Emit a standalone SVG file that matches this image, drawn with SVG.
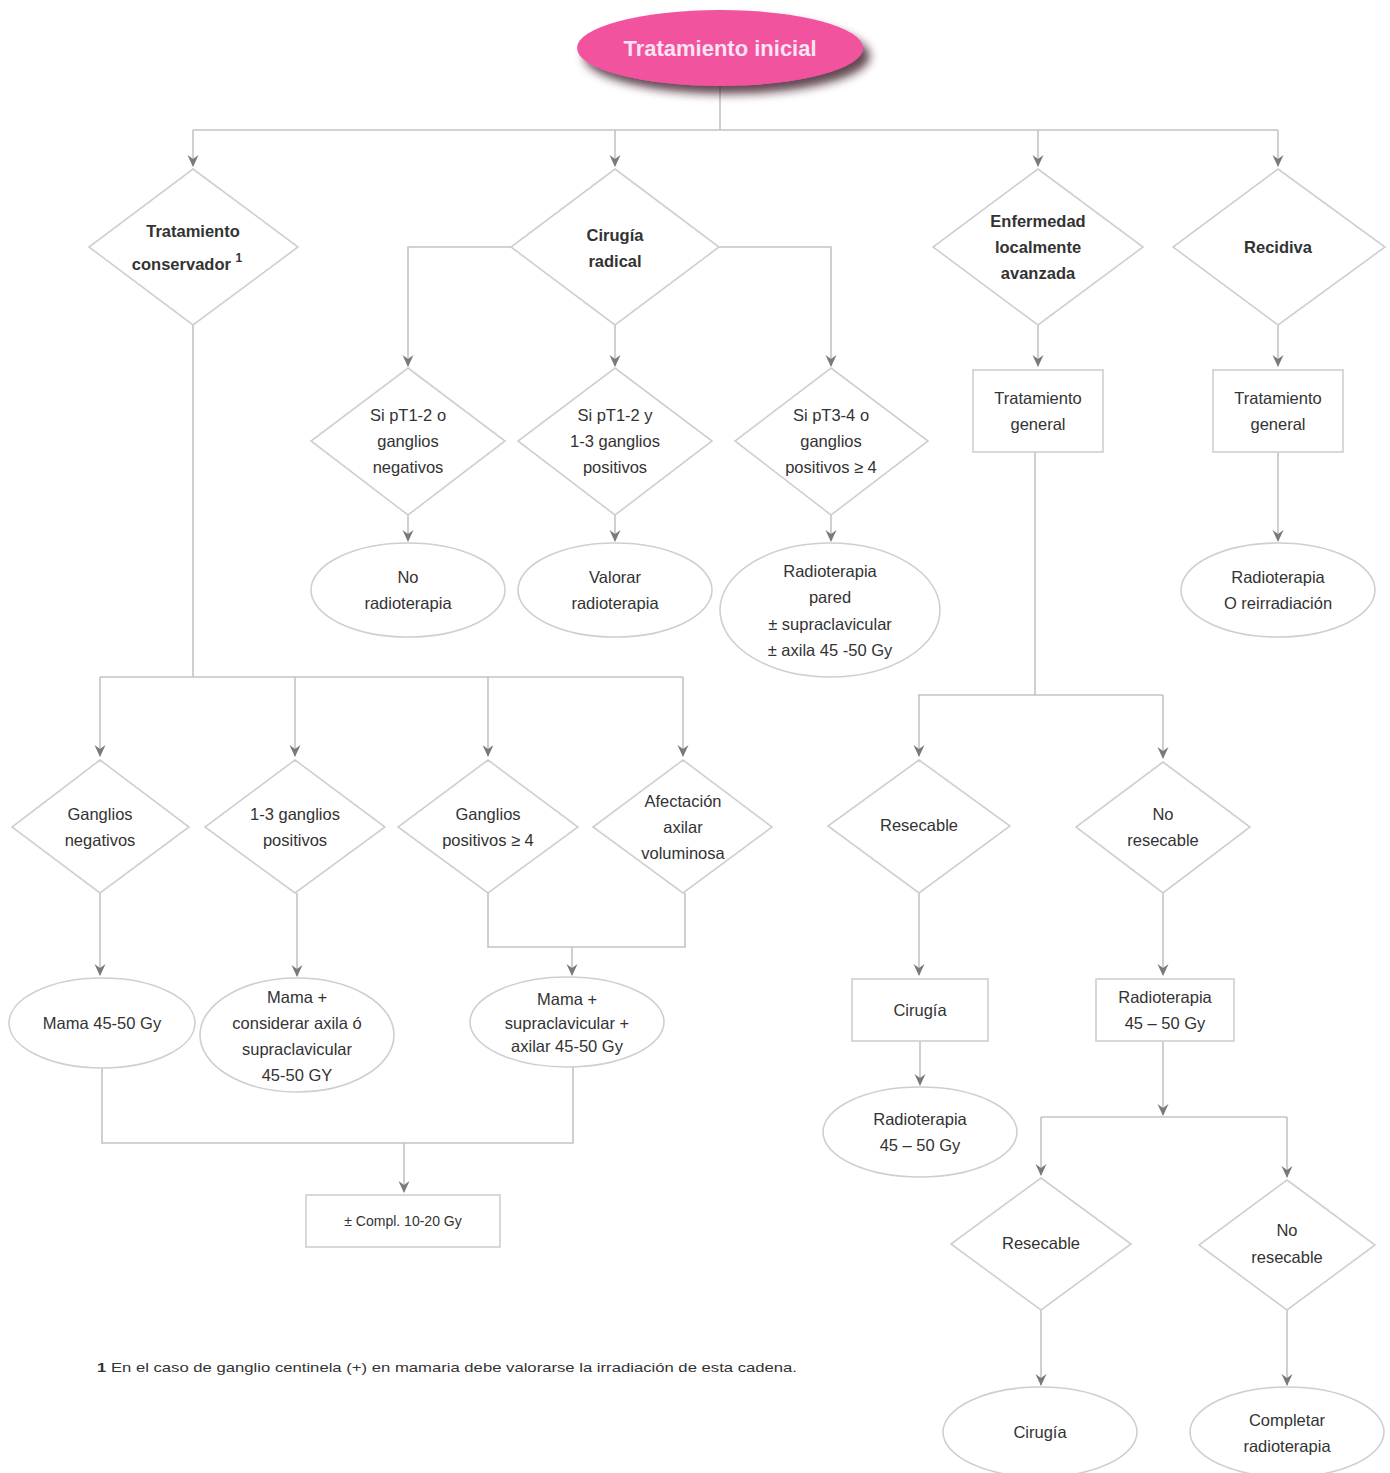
<svg xmlns="http://www.w3.org/2000/svg" width="1390" height="1473" viewBox="0 0 1390 1473">
<defs>
<marker id="arr" viewBox="0 0 12 12" refX="11" refY="6" markerWidth="12" markerHeight="12" markerUnits="userSpaceOnUse" orient="auto">
<path d="M0,0.5 L12,6 L0,11.5 L4,6 Z" fill="#7a7a7a"/>
</marker>
<filter id="sh" x="-20%" y="-40%" width="150%" height="190%">
<feDropShadow dx="7" dy="8" stdDeviation="5" flood-color="#3a1a28" flood-opacity="0.8"/>
</filter>
</defs>
<style>
.n{fill:#fff;stroke:#cfcfcf;stroke-width:1.6}
.c{fill:none;stroke:#c4c4c4;stroke-width:1.6}
.a{fill:none;stroke:#c4c4c4;stroke-width:1.6;marker-end:url(#arr)}
text{font-family:"Liberation Sans",Arial,sans-serif;font-size:16.5px;fill:#333;text-anchor:middle}
.b{font-weight:bold}
</style>
<rect width="1390" height="1473" fill="#fff"/>
<g id="connectors">
<path class="c" d="M720,86 V130 M193,130 H1278"/>
<path class="a" d="M193,130 V166"/>
<path class="a" d="M615,130 V166"/>
<path class="a" d="M1038,130 V166"/>
<path class="a" d="M1278,130 V166"/>
<path class="a" d="M511,247 H408 V366"/>
<path class="a" d="M615,325 V366"/>
<path class="a" d="M719,247 H831 V366"/>
<path class="a" d="M408,515 V541"/>
<path class="a" d="M615,515 V541"/>
<path class="a" d="M831,515 V541"/>
<path class="a" d="M1038,325 V366"/>
<path class="a" d="M1278,325 V366"/>
<path class="a" d="M1278,452 V541"/>
<path class="c" d="M1035,452 V695 M918,695 H1163"/>
<path class="a" d="M919,695 V756"/>
<path class="a" d="M1163,695 V758"/>
<path class="a" d="M919,893 V975"/>
<path class="a" d="M920,1041 V1085"/>
<path class="a" d="M1163,893 V975"/>
<path class="a" d="M1163,1041 V1115"/>
<path class="c" d="M1041,1117 H1287"/>
<path class="a" d="M1041,1117 V1175"/>
<path class="a" d="M1287,1117 V1177"/>
<path class="a" d="M1041,1310 V1385"/>
<path class="a" d="M1287,1310 V1385"/>
<path class="c" d="M193,325 V677 M100,677 H683"/>
<path class="a" d="M100,677 V756"/>
<path class="a" d="M295,677 V756"/>
<path class="a" d="M488,677 V756"/>
<path class="a" d="M683,677 V756"/>
<path class="a" d="M100,893 V975"/>
<path class="a" d="M297,893 V976"/>
<path class="c" d="M488,893 V947 H685 V893"/>
<path class="a" d="M572,947 V975"/>
<path class="c" d="M102,1068 V1143 H573 V1067"/>
<path class="a" d="M404,1143 V1192"/>
</g>
<g id="n-inicial">
<ellipse cx="720" cy="48" rx="143" ry="38" fill="#f2529f" filter="url(#sh)"/>
<text x="720" y="56" class="b" style="font-size:22px;fill:#fbe3f1">Tratamiento inicial</text>
</g>
<g id="n-conservador">
<polygon class="n" points="193,169 298,247 193,325 89,247"/>
<text class="b" x="193" y="237">Tratamiento</text>
<text class="b" x="187" y="270">conservador <tspan style="font-size:12px" dy="-8">1</tspan></text>
</g>
<g id="n-radical">
<polygon class="n" points="615,169 719,247 615,325 511,247"/>
<text class="b" x="615" y="241">Cirugía</text>
<text class="b" x="615" y="267">radical</text>
</g>
<g id="n-avanzada">
<polygon class="n" points="1038,169 1143,247 1038,325 933,247"/>
<text class="b" x="1038" y="227">Enfermedad</text>
<text class="b" x="1038" y="253">localmente</text>
<text class="b" x="1038" y="279">avanzada</text>
</g>
<g id="n-recidiva">
<polygon class="n" points="1278,169 1385,247 1278,325 1173,247"/>
<text class="b" x="1278" y="253">Recidiva</text>
</g>
<g id="n-pt12o">
<polygon class="n" points="408,368 505,441 408,515 311,441"/>
<text x="408" y="421">Si pT1-2 o</text>
<text x="408" y="447">ganglios</text>
<text x="408" y="473">negativos</text>
</g>
<g id="n-pt12y">
<polygon class="n" points="615,368 712,441 615,515 518,441"/>
<text x="615" y="421">Si pT1-2 y</text>
<text x="615" y="447">1-3 ganglios</text>
<text x="615" y="473">positivos</text>
</g>
<g id="n-pt34">
<polygon class="n" points="831,368 928,441 831,515 735,441"/>
<text x="831" y="421">Si pT3-4 o</text>
<text x="831" y="447">ganglios</text>
<text x="831" y="473">positivos ≥ 4</text>
</g>
<g id="n-norad">
<ellipse class="n" cx="408" cy="590" rx="97" ry="47"/>
<text x="408" y="583">No</text>
<text x="408" y="609">radioterapia</text>
</g>
<g id="n-valorar">
<ellipse class="n" cx="615" cy="590" rx="97" ry="47"/>
<text x="615" y="583">Valorar</text>
<text x="615" y="609">radioterapia</text>
</g>
<g id="n-pared">
<ellipse class="n" cx="830" cy="610" rx="110" ry="67"/>
<text x="830" y="577">Radioterapia</text>
<text x="830" y="603">pared</text>
<text x="830" y="630">± supraclavicular</text>
<text x="830" y="656">± axila 45 -50 Gy</text>
</g>
<g id="n-tg1">
<rect class="n" x="973" y="370" width="130" height="82"/>
<text x="1038" y="404">Tratamiento</text>
<text x="1038" y="430">general</text>
</g>
<g id="n-tg2">
<rect class="n" x="1213" y="370" width="130" height="82"/>
<text x="1278" y="404">Tratamiento</text>
<text x="1278" y="430">general</text>
</g>
<g id="n-reirr">
<ellipse class="n" cx="1278" cy="590" rx="97" ry="47"/>
<text x="1278" y="583">Radioterapia</text>
<text x="1278" y="609">O reirradiación</text>
</g>
<g id="n-resec1">
<polygon class="n" points="919,760 1010,826 919,893 828,826"/>
<text x="919" y="831">Resecable</text>
</g>
<g id="n-nores1">
<polygon class="n" points="1163,762 1250,827 1163,893 1076,827"/>
<text x="1163" y="820">No</text>
<text x="1163" y="846">resecable</text>
</g>
<g id="n-cir1">
<rect class="n" x="852" y="979" width="136" height="62"/>
<text x="920" y="1016">Cirugía</text>
</g>
<g id="n-rt1">
<ellipse class="n" cx="920" cy="1132" rx="97" ry="45"/>
<text x="920" y="1125">Radioterapia</text>
<text x="920" y="1151">45 – 50 Gy</text>
</g>
<g id="n-rt2">
<rect class="n" x="1096" y="979" width="138" height="62"/>
<text x="1165" y="1003">Radioterapia</text>
<text x="1165" y="1029">45 – 50 Gy</text>
</g>
<g id="n-resec2">
<polygon class="n" points="1041,1178 1131,1244 1041,1310 951,1244"/>
<text x="1041" y="1249">Resecable</text>
</g>
<g id="n-nores2">
<polygon class="n" points="1287,1180 1375,1245 1287,1310 1199,1245"/>
<text x="1287" y="1236">No</text>
<text x="1287" y="1263">resecable</text>
</g>
<g id="n-cir2">
<ellipse class="n" cx="1040" cy="1432" rx="97" ry="45"/>
<text x="1040" y="1438">Cirugía</text>
</g>
<g id="n-completar">
<ellipse class="n" cx="1287" cy="1432" rx="97" ry="45"/>
<text x="1287" y="1426">Completar</text>
<text x="1287" y="1452">radioterapia</text>
</g>
<g id="n-gneg">
<polygon class="n" points="100,760 189,827 100,893 12,827"/>
<text x="100" y="820">Ganglios</text>
<text x="100" y="846">negativos</text>
</g>
<g id="n-g13">
<polygon class="n" points="295,760 385,827 295,893 205,827"/>
<text x="295" y="820">1-3 ganglios</text>
<text x="295" y="846">positivos</text>
</g>
<g id="n-g4">
<polygon class="n" points="488,760 578,827 488,893 398,827"/>
<text x="488" y="820">Ganglios</text>
<text x="488" y="846">positivos ≥ 4</text>
</g>
<g id="n-afect">
<polygon class="n" points="683,760 772,827 683,893 593,827"/>
<text x="683" y="807">Afectación</text>
<text x="683" y="833">axilar</text>
<text x="683" y="859">voluminosa</text>
</g>
<g id="n-mama1">
<ellipse class="n" cx="102" cy="1023" rx="93" ry="45"/>
<text x="102" y="1029">Mama 45-50 Gy</text>
</g>
<g id="n-mama2">
<ellipse class="n" cx="297" cy="1035" rx="97" ry="57"/>
<text x="297" y="1003">Mama +</text>
<text x="297" y="1029">considerar axila ó</text>
<text x="297" y="1055">supraclavicular</text>
<text x="297" y="1081">45-50 GY</text>
</g>
<g id="n-mama3">
<ellipse class="n" cx="567" cy="1022" rx="97" ry="45"/>
<text x="567" y="1005">Mama +</text>
<text x="567" y="1029">supraclavicular +</text>
<text x="567" y="1052">axilar 45-50 Gy</text>
</g>
<g id="n-compl">
<rect class="n" x="306" y="1195" width="194" height="52"/>
<text x="403" y="1226" style="font-size:14px">± Compl. 10-20 Gy</text>
</g>
<text x="97" y="1372" style="font-size:13.5px;text-anchor:start" textLength="700" lengthAdjust="spacingAndGlyphs"><tspan class="b">1</tspan> En el caso de ganglio centinela (+) en mamaria debe valorarse la irradiación de esta cadena.</text>
</svg>
